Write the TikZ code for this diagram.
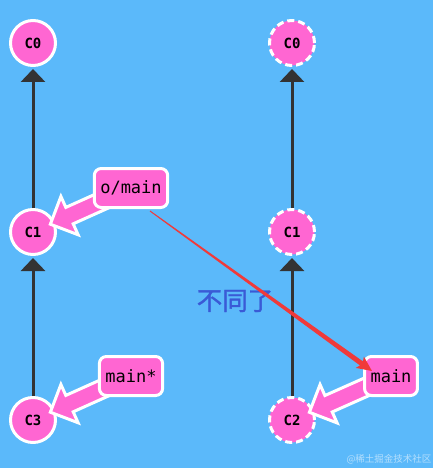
\documentclass[tikz,border=0pt]{standalone}
\usepackage{fontspec}
\usetikzlibrary{arrows.meta,calc}
\newfontfamily\gitmono{DejaVu Sans Mono}
\newfontfamily\cjk{Noto Sans CJK SC}
\newfontfamily\cjkthick[FakeBold=1.2]{Noto Sans CJK SC}
\definecolor{sky}{HTML}{5BB9FA}
\definecolor{rose}{HTML}{FF66D2}
\definecolor{ink}{HTML}{333333}
\definecolor{alert}{HTML}{F03A3A}
\definecolor{note}{HTML}{3A5AD6}
\pgfdeclarelayer{front}
\pgfsetlayers{main,front}
\tikzset{
 commit/.style={circle,fill=rose,draw=white,line width=3pt,minimum size=45pt,inner sep=0pt,font=\gitmono\bfseries\fontsize{14}{14}\selectfont},
 ghost/.style={commit,dash pattern=on 7pt off 4pt},
 branch/.style={rectangle,rounded corners=7pt,fill=rose,draw=white,line width=3pt,minimum height=39pt,inner xsep=6pt,font=\gitmono\fontsize{17}{17}\selectfont},
 parent/.style={draw=ink,line width=3pt,-{Triangle[length=13pt,width=24pt]},shorten >=2pt},
 fat/.style={fill=rose,draw=white,line width=3pt,line join=miter}
}
% fat pointer from a branch label to its commit
\newcommand\fatarrow[2]{%
 \draw[fat] let \p1=(#1.center),\p2=(#2.center),\n1={atan2(\y2-\y1,\x2-\x1)},\n2={veclen(\x2-\x1,\y2-\y1)-19} in
  [shift={(\p1)},rotate=\n1] (0,-9)--(\n2-21,-9)--(\n2-21,-21)--(\n2,0)--(\n2-21,21)--(\n2-21,9)--(0,9)--cycle;}
\begin{document}
\begin{tikzpicture}[x=1pt,y=1pt,line join=round]
\path[use as bounding box,fill=sky] (0,0) rectangle (433,-468);
% local repo
\node[commit] (c0) at (33,-43) {C0};
\node[commit] (c1) at (33,-232) {C1};
\node[commit] (c3) at (33,-420) {C3};
% remote repo
\node[ghost] (r0) at (292,-43) {C0};
\node[ghost] (r1) at (292,-232) {C1};
\node[ghost] (r2) at (292,-420) {C2};
\foreach \a/\b in {c1/c0,c3/c1,r1/r0,r2/r1}
  \draw[parent] (\a) -- (\b);
\begin{pgfonlayer}{front}
\node[branch] (omain) at (131,-188) {o/main};
\node[branch] (mainstar) at (131,-376) {main*};
\node[branch] (mainr) at (391,-376) {main};
\end{pgfonlayer}
\fatarrow{omain}{c1}
\fatarrow{mainstar}{c3}
\fatarrow{mainr}{r2}
\begin{pgfonlayer}{front}
\node[font=\cjkthick\fontsize{25.5}{26}\selectfont,text=note] (diff) at (235,-301) {不同了};
\coordinate (rs) at (150,-211);
\coordinate (re) at (372,-371);
\fill[alert] let \p1=(rs),\p2=(re),\n1={atan2(\y2-\y1,\x2-\x1)},\n2={veclen(\x2-\x1,\y2-\y1)} in
  [shift={(\p1)},rotate=\n1] (0,-0.5)--(\n2-13,-2.5)--(\n2-15,-7)--(\n2,0)--(\n2-15,7)--(\n2-13,2.5)--(0,0.5)--cycle;
\node[font=\cjk\fontsize{9.5}{10}\selectfont,text=white!55!sky] (mark) at (389,-459) {@稀土掘金技术社区};
\end{pgfonlayer}
\end{tikzpicture}
\end{document}
